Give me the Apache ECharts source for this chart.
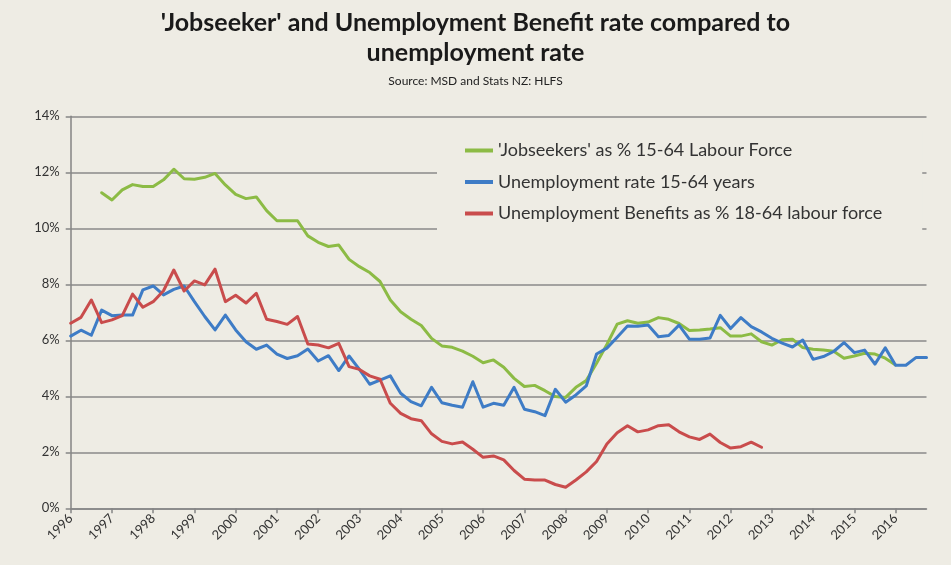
<!DOCTYPE html>
<html>
<head>
<meta charset="utf-8">
<script src="https://cdn.jsdelivr.net/npm/echarts@6/dist/echarts.min.js"></script>
<style>
html,body{margin:0;padding:0;background:#fff;}
#chart{width:951px;height:565px;}
</style>
</head>
<body>
<div id="chart"></div>
<script>
// Quarterly categories 1996 Q1 .. 2016 Q4
const years = ['1996','1997','1998','1999','2000','2001','2002','2003','2004','2005','2006','2007','2008','2009','2010','2011','2012','2013','2014','2015','2016'];
const quarters = ['Q1','Q2','Q3','Q4'];

const jobseekers = [null,null,null,11.27,11.01,11.37,11.56,11.49,11.49,11.73,12.11,11.77,11.75,11.82,11.96,11.55,11.21,11.06,11.12,10.63,10.27,10.27,10.27,9.73,9.50,9.35,9.40,8.89,8.63,8.42,8.10,7.44,7.02,6.75,6.53,6.07,5.80,5.75,5.61,5.43,5.20,5.30,5.04,4.64,4.35,4.39,4.20,3.99,3.96,4.32,4.56,5.18,5.85,6.58,6.70,6.61,6.65,6.81,6.75,6.60,6.35,6.37,6.40,6.45,6.15,6.15,6.23,5.95,5.83,6.02,6.04,5.74,5.68,5.65,5.61,5.36,5.44,5.54,5.51,5.36,5.12,null,null,null];

const unemploymentRate = [6.15,6.36,6.18,7.08,6.88,6.90,6.90,7.80,7.94,7.62,7.82,7.94,7.38,6.85,6.37,6.90,6.37,5.95,5.68,5.83,5.51,5.35,5.45,5.69,5.26,5.45,4.92,5.44,4.96,4.43,4.58,4.73,4.11,3.81,3.66,4.32,3.77,3.68,3.61,4.52,3.61,3.75,3.68,4.32,3.54,3.45,3.31,4.25,3.79,4.05,4.37,5.51,5.72,6.11,6.51,6.50,6.55,6.13,6.17,6.54,6.04,6.04,6.08,6.89,6.42,6.81,6.49,6.30,6.07,5.90,5.76,6.01,5.32,5.42,5.60,5.92,5.56,5.65,5.15,5.73,5.11,5.11,5.39,5.39];

const benefits = [6.61,6.82,7.44,6.63,6.73,6.88,7.65,7.18,7.38,7.77,8.51,7.76,8.12,7.98,8.54,7.38,7.61,7.33,7.68,6.75,6.67,6.57,6.85,5.87,5.83,5.73,5.89,5.06,4.96,4.73,4.61,3.75,3.39,3.20,3.13,2.66,2.39,2.30,2.37,2.11,1.82,1.87,1.73,1.35,1.04,1.01,1.01,0.85,0.75,1.01,1.30,1.67,2.30,2.70,2.95,2.73,2.80,2.95,2.98,2.73,2.55,2.46,2.65,2.35,2.15,2.20,2.36,2.18,null,null,null,null,null,null,null,null,null,null,null,null,null,null,null,null];

const seriesNames = ["'Jobseekers' as % 15-64 Labour Force","Unemployment rate 15-64 years","Unemployment Benefits as % 18-64 labour force"];

const categories = [];
years.forEach(y => quarters.forEach(q => categories.push(y + ' ' + q)));

const BG = '#EEECE4';
const FONT = 'Lato, "Open Sans", sans-serif';
const chart = echarts.init(document.getElementById('chart'), null, {renderer:'canvas'});

function mkSeries(name, data, color){
  return {
    name: name, type: 'line', data: data, symbol: 'none', connectNulls: false,
    lineStyle: {color: color, width: 3, cap: 'round', join: 'round'},
    itemStyle: {color: color}
  };
}

chart.setOption({
  backgroundColor: BG,
  animation: false,
  textStyle: {fontFamily: FONT},
  title: {
    text: "'Jobseeker' and Unemployment Benefit rate compared to\nunemployment rate",
    subtext: 'Source: MSD and Stats NZ: HLFS',
    left: 'center', top: 3, itemGap: 7,
    textStyle: {fontFamily: FONT, fontSize: 25, fontWeight: 'bold', color: '#1a1a1a', lineHeight: 30},
    subtextStyle: {fontFamily: FONT, fontSize: 12, color: '#222'}
  },
  legend: {
    orient: 'vertical', left: 437, top: 131,
    padding: [10, 40, 10, 28],
    backgroundColor: BG,
    itemWidth: 28, itemHeight: 4, itemGap: 12.5,
    icon: 'rect',
    textStyle: {fontFamily: FONT, fontSize: 18, color: '#333', lineHeight: 19},
    data: seriesNames
  },
  grid: {left: 70.7, right: 24.5, top: 116.3, bottom: 56.7, containLabel: false},
  xAxis: {
    type: 'category', data: categories, boundaryGap: false,
    axisLine: {lineStyle: {color: '#858585', width: 1.5}},
    axisTick: {interval: 3, length: 5, lineStyle: {color: '#858585', width: 1.5}},
    axisLabel: {interval: 3, rotate: 45, fontSize: 13, color: '#333', margin: 8,
      formatter: v => v.split(' ')[0]},
    splitLine: {show: false}
  },
  yAxis: {
    type: 'value', min: 0, max: 14, interval: 2,
    axisLine: {show: true, lineStyle: {color: '#858585', width: 1.5}},
    axisTick: {show: true, length: 5, lineStyle: {color: '#858585', width: 1.5}},
    axisLabel: {formatter: '{value}%', fontSize: 13, color: '#333', margin: 11},
    splitLine: {lineStyle: {color: '#8a8a8a', width: 1.5}}
  },
  series: [
    mkSeries(seriesNames[0], jobseekers, '#8CBB45'),
    mkSeries(seriesNames[1], unemploymentRate, '#3E7CC6'),
    mkSeries(seriesNames[2], benefits, '#C94C4C')
  ]
});
</script>
</body>
</html>
